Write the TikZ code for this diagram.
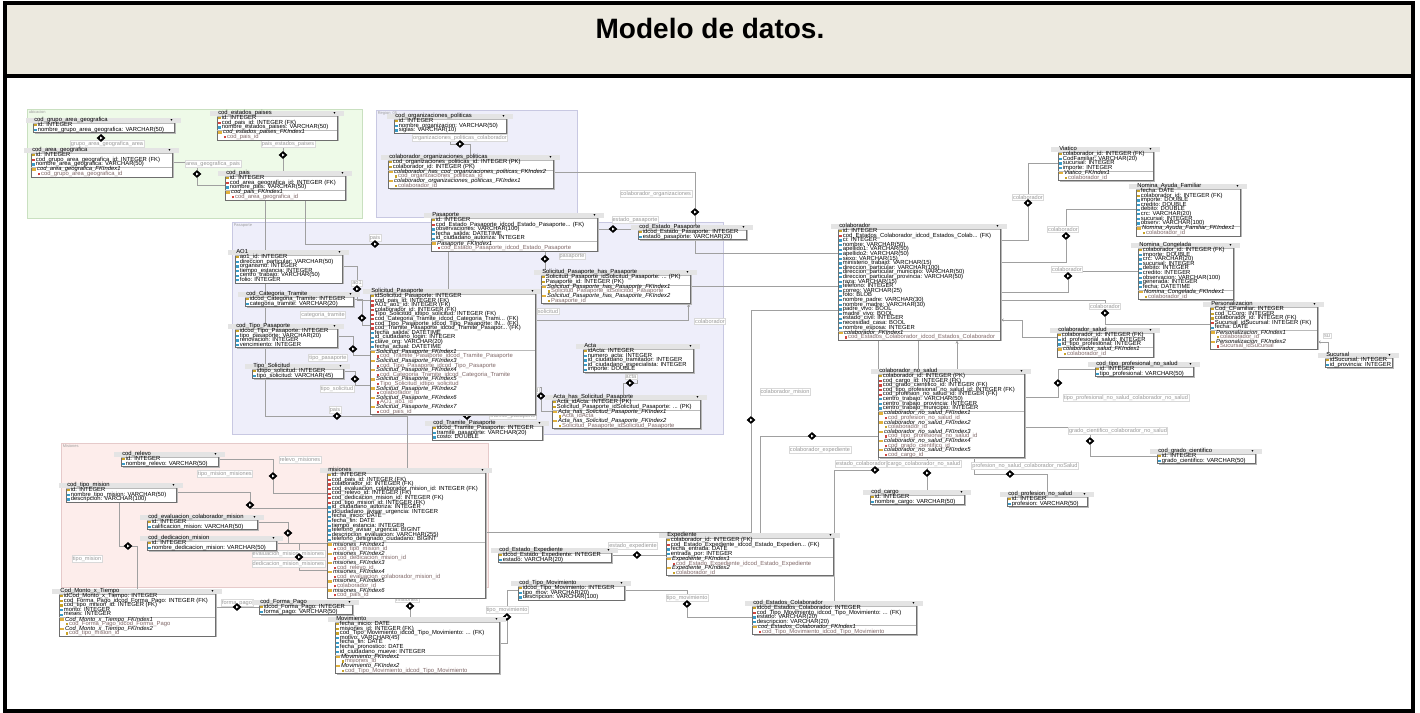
\documentclass[tikz,border=0pt]{standalone}
\usepackage{fontspec}
\setmainfont{Liberation Sans}
\usepackage{colortbl}
\usetikzlibrary{shapes.geometric,calc,shadows,arrows.meta}

\definecolor{keyc}{HTML}{C9A227}
\definecolor{fldc}{HTML}{3A9CC8}
\definecolor{fkc}{HTML}{D2453F}
\definecolor{fldr}{HTML}{E2B13C}
\definecolor{idxt}{HTML}{806868}
\definecolor{hdrc}{HTML}{E4E4E4}
\definecolor{tbord}{HTML}{6E6E6E}
\definecolor{titlebg}{HTML}{ECE9DF}
\definecolor{ubifill}{HTML}{EEFAE8}
\definecolor{ubidraw}{HTML}{C9E0C0}
\definecolor{pasfill}{HTML}{EEEEFA}
\definecolor{pasdraw}{HTML}{C8C8E2}
\definecolor{misfill}{HTML}{FDEDEB}
\definecolor{misdraw}{HTML}{E6CACA}
\definecolor{conc}{HTML}{A0A0A0}

\pgfdeclarelayer{regions}
\pgfdeclarelayer{lines}
\pgfsetlayers{regions,lines,main}

% table rows
\newlength\tw
\newcommand\tabfs{\fontsize{4.4}{3.45}\selectfont}
\newcommand\ico[1]{\textcolor{#1}{\rule[0.15pt]{1.7pt}{1.7pt}}\hspace{1pt}}
\newcommand\rowbox[1]{\makebox[\tw][l]{\smash{#1}}\\}
\newcommand\hd[1]{\rowcolor{hdrc}\makebox[\tw][l]{\smash{#1}\hfill\smash{\fontsize{2.6}{2.6}\selectfont ▼}}\\\hline}
\newcommand\kf[1]{\rowbox{\ico{keyc}#1}}
\newcommand\ff[1]{\rowbox{\ico{fldc}#1}}
\newcommand\fk[1]{\rowbox{\ico{fkc}#1}}
\newcommand\ix[1]{\rowbox{\textcolor{fldr}{\rule[0.15pt]{2.6pt}{1.8pt}}\hspace{1pt}\textit{#1}}}
\newcommand\ic[1]{\rowbox{\hspace{4pt}\ico{fkc}\textcolor{idxt}{#1}}}
\newcommand\icK[1]{\rowbox{\hspace{4pt}\ico{keyc}\textcolor{idxt}{#1}}}
% table node: name, x, y, width (px), rows
\newcommand\tbl[5]{\node[tbl] (#1) at (#2,#3) {\setlength\tw{\dimexpr 0.75pt*#4-1.5pt\relax}\tabfs\arrayrulecolor{gray!55}\setlength\arrayrulewidth{0.35pt}\begin{tabular}{@{\hspace{0.75pt}}l@{\hspace{0.75pt}}}#5\end{tabular}};}

\tikzset{
  tbl/.style={draw=tbord, line width=0.45pt, fill=white, inner sep=0pt, anchor=north west,
    drop shadow={shadow xshift=0.9pt, shadow yshift=-0.9pt, fill=black!28, opacity=1}},
  con/.style={draw=conc, line width=0.6pt},
  lbl/.style={font=\fontsize{4.2}{4.2}\selectfont, text=gray!80, fill=white, draw=gray!30, line width=0.3pt, inner sep=0.6pt},
  rlbl/.style={font=\fontsize{3}{3}\selectfont, text=gray!75, anchor=north west, inner sep=0.4pt},
  dia/.style={diamond, draw=black, fill=black, inner sep=0pt, minimum width=6pt, minimum height=5.4pt,
    path picture={\fill[white] (path picture bounding box.center) ++(-0.6pt,1pt) -- ++(1.8pt,-1pt) -- ++(-1.8pt,-1pt) -- cycle;}},
  tip/.style={-{Stealth[length=2.4pt,width=2.2pt]}}
}

\begin{document}
\catcode`\_=12
\begin{tikzpicture}[x=0.75pt,y=-0.75pt]
\useasboundingbox (0,0) rectangle (1420,713);

% title bar and package areas
\begin{pgfonlayer}{regions}
\fill[titlebg] (5,3) rectangle (1413,76);
\draw[ubidraw, fill=ubifill, line width=0.5pt] (27,109) rectangle (362,218);
\draw[pasdraw, fill=pasfill, line width=0.5pt] (376,110) rectangle (577,217);
\draw[pasdraw, fill=pasfill, line width=0.5pt] (232,222) rectangle (723,434);
\draw[misdraw, fill=misfill, line width=0.5pt] (61,443) rectangle (488,587);
\end{pgfonlayer}

\node[font=\fontsize{21}{21}\selectfont\bfseries] (title) at (710,28) {Modelo de datos.};

\node[rlbl] (r1) at (28,110) {ubicacion};
\node[rlbl] (r2) at (377,110.5) {Region_05};
\node[rlbl] (r3) at (233,223) {Pasaporte};
\node[rlbl] (r4) at (62,444) {Misiones};

% relationship labels
\node[lbl] (l1) at (107,144) {grupo_area_geografica_area};
\node[lbl] (l2) at (213,164) {area_geografica_pais};
\node[lbl] (l3) at (288,144) {pais_estados_paises};
\node[lbl] (l4) at (460,138) {organizaciones_politicas_colaborador};
\node[lbl, anchor=east] (l5) at (692,194) {colaborador_organizaciones};
\node[lbl] (l6) at (375,238) {pais};
\node[lbl] (l7) at (635,220) {estado_pasaporte};
\node[lbl] (l8) at (572,256) {pasaporte};
\node[lbl] (l9) at (357,283) {ao1};
\node[lbl] (l10) at (323,315) {categoria_tramite};
\node[lbl] (l11) at (328,358) {tipo_pasaporte};
\node[lbl] (l12) at (337,389) {tipo_solicitud};
\node[lbl] (l13) at (335,410) {pais};
\node[lbl] (l14) at (513,416) {tramite_pasaporte};
\node[lbl] (l15) at (548,311) {solicitud};
\node[lbl] (l16) at (710,321) {colaborador};
\node[lbl] (l17) at (631,377) {acta};
\node[lbl] (l18) at (528,390) {solicitud};
\node[lbl] (l19) at (785,392) {colaborador_mision};
\node[lbl] (l20) at (820,450) {colaborador_expediente};
\node[lbl] (l23) at (924,464) {cargo_colaborador_no_salud};
\node[lbl, anchor=east] (l22) at (l23.west) {estado_colaborador};
\node[lbl] (l24) at (1025,466) {profesion_no_salud_colaborador_noSalud};
\node[lbl] (l25) at (1118,431) {grado_cientifico_colaborador_no_salud};
\node[lbl] (l26) at (1126,398) {tipo_profesional_no_salud_colaborador_no_salud};
\node[lbl] (l27) at (1028,197) {colaborador};
\node[lbl] (l28) at (1063,229) {colaborador};
\node[lbl] (l29) at (1067,269) {colaborador};
\node[lbl] (l30) at (1105,306) {colaborador};
\node[lbl] (l32) at (1327,336) {su};
\node[lbl] (l33) at (300,460) {relevo_misiones};
\node[lbl] (l34) at (225,474) {tipo_mision_misiones};
\node[lbl, anchor=east] (l35) at (325,554) {evaluacion_mision_misiones};
\node[lbl, anchor=east] (l36) at (325,564) {dedicacion_mision_misiones};
\node[lbl] (l37) at (87,559) {tipo_mision};
\node[lbl] (l38) at (237,603) {forma_pago};
\node[lbl] (l39) at (407,599) {misiones};
\node[lbl] (l40) at (507,610) {tipo_movimiento};
\node[lbl] (l41) at (687,598) {tipo_movimiento};
\node[lbl] (l42) at (633,546) {estado_expediente};

% relationship markers
\node[dia] (d1) at (101,138) {};
\node[dia] (d2) at (197,174) {};
\node[dia] (d3) at (283,155) {};
\node[dia] (d4) at (460,144) {};
\node[dia] (d5) at (695,212) {};
\node[dia] (d6) at (375,244) {};
\node[dia] (d7) at (613,229) {};
\node[dia] (d8) at (545,259) {};
\node[dia] (d9) at (357,289) {};
\node[dia] (d10) at (362,318) {};
\node[dia] (d11) at (353,349) {};
\node[dia] (d12) at (355,379) {};
\node[dia] (d13) at (337,416) {};
\node[dia] (d14) at (467,416) {};
\node[dia] (d17) at (630,383) {};
\node[dia] (d18) at (541,396) {};
\node[dia] (d19) at (751,420) {};
\node[dia] (d20) at (812,436) {};
\node[dia] (d22) at (875,470) {};
\node[dia] (d23) at (927,473) {};
\node[dia] (d24) at (1010,474) {};
\node[dia] (d25) at (1090,441) {};
\node[dia] (d26) at (1058,383) {};
\node[dia] (d27) at (1028,203) {};
\node[dia] (d28) at (1066,236) {};
\node[dia] (d29) at (1068,276) {};
\node[dia] (d30) at (1105,313) {};
\node[dia] (d33) at (273,476) {};
\node[dia] (d34) at (250,505) {};
\node[dia] (d35) at (288,533) {};
\node[dia] (d36) at (299,557) {};
\node[dia] (d37) at (128,546) {};
\node[dia] (d38) at (237,607) {};
\node[dia] (d39) at (410,606) {};
\node[dia] (d40) at (507,617) {};
\node[dia] (d41) at (687,604) {};
\node[dia] (d42) at (637,555) {};

% ---- tables: ubicacion
\tbl{cgag}{33}{118}{141}{\hd{cod_grupo_area_geografica}\kf{id: INTEGER}\ff{nombre_grupo_area_geografica: VARCHAR(50)}}
\tbl{cag}{31}{148}{141}{\hd{cod_area_geografica}\kf{id: INTEGER}\fk{cod_grupo_area_geografica_id: INTEGER (FK)}\ff{nombre_area_geografica: VARCHAR(50)}\hline\ix{cod_area_geografica_FKIndex1}\ic{cod_grupo_area_geografica_id}}
\tbl{cep}{217}{111}{120}{\hd{cod_estados_paises}\kf{id: INTEGER}\fk{cod_pais_id: INTEGER (FK)}\ff{nombre_estados_paises: VARCHAR(50)}\hline\ix{cod_estados_paises_FKIndex1}\ic{cod_pais_id}}
\tbl{cpais}{225}{171}{120}{\hd{cod_pais}\kf{id: INTEGER}\fk{cod_area_geografica_id: INTEGER (FK)}\ff{nombre_pais: VARCHAR(50)}\hline\ix{cod_pais_FKIndex1}\ic{cod_area_geografica_id}}

% ---- tables: Region_05
\tbl{corg}{394}{114}{112}{\hd{cod_organizaciones_politicas}\kf{id: INTEGER}\ff{nombre_organizacion: VARCHAR(50)}\ff{siglas: VARCHAR(10)}}
\tbl{cop}{388}{155}{165}{\hd{colaborador_organizaciones_politicas}\kf{cod_organizaciones_politicas_id: INTEGER (PK)}\kf{colaborador_id: INTEGER (PK)}\hline\ix{colaborador_has_cod_organizaciones_politicas_FKIndex2}\icK{cod_organizaciones_politicas_id}\ix{colaborador_organizaciones_politicas_FKIndex1}\icK{colaborador_id}}

% ---- tables: Pasaporte
\tbl{pas}{431}{213}{166}{\hd{Pasaporte}\kf{id: INTEGER}\fk{cod_Estado_Pasaporte_idcod_Estado_Pasaporte... (FK)}\ff{observaciones: VARCHAR(100)}\ff{fecha_salida: DATETIME}\ff{id_ciudadano_autoriza: INTEGER}\hline\ix{Pasaporte_FKIndex1}\ic{cod_Estado_Pasaporte_idcod_Estado_Pasaporte}}
\tbl{cestp}{638}{225}{108}{\hd{cod_Estado_Pasaporte}\kf{idcod_Estado_Pasaporte: INTEGER}\ff{estado_pasaporte: VARCHAR(20)}}
\tbl{ao1}{235}{250}{107}{\hd{AO1}\kf{ao1_id: INTEGER}\ff{direccion_particular: VARCHAR(50)}\ff{organismo: INTEGER}\ff{tiempo_estancia: INTEGER}\ff{centro_trabajo: VARCHAR(50)}\ff{folio: INTEGER}}
\tbl{ccat}{245}{292}{108}{\hd{cod_Categoria_Tramite}\kf{idcod_Categoria_Tramite: INTEGER}\ff{categoria_tramite: VARCHAR(20)}}
\tbl{ctp}{235}{324}{102}{\hd{cod_Tipo_Pasaporte}\kf{idcod_Tipo_Pasaporte: INTEGER}\ff{tipo_pasaporte: VARCHAR(20)}\ff{renovacion: INTEGER}\ff{vencimiento: INTEGER}}
\tbl{tsol}{252}{364}{91}{\hd{Tipo_Solicitud}\kf{idtipo_solicitud: INTEGER}\ff{tipo_solicitud: VARCHAR(45)}}
\tbl{sol}{370}{289}{165}{\hd{Solicitud_Pasaporte}\kf{idSolicitud_Pasaporte: INTEGER}\fk{cod_pais_id: INTEGER (FK)}\fk{AO1_ao1_id: INTEGER (FK)}\fk{colaborador_id: INTEGER (FK)}\fk{Tipo_Solicitud_idtipo_solicitud: INTEGER (FK)}\fk{cod_Categoria_Tramite_idcod_Categoria_Trami... (FK)}\fk{cod_Tipo_Pasaporte_idcod_Tipo_Pasaporte: IN... (FK)}\fk{cod_Tramite_Pasaporte_idcod_Tramite_Pasapor... (FK)}\ff{fecha_salida: DATETIME}\ff{id_ciudadano_login: INTEGER}\ff{clave_org: VARCHAR(20)}\ff{fecha_actual: DATETIME}\hline\ix{Solicitud_Pasaporte_FKIndex1}\ic{cod_Tramite_Pasaporte_idcod_Tramite_Pasaporte}\ix{Solicitud_Pasaporte_FKIndex3}\ic{cod_Tipo_Pasaporte_idcod_Tipo_Pasaporte}\ix{Solicitud_Pasaporte_FKIndex4}\ic{cod_Categoria_Tramite_idcod_Categoria_Tramite}\ix{Solicitud_Pasaporte_FKIndex5}\ic{Tipo_Solicitud_idtipo_solicitud}\ix{Solicitud_Pasaporte_FKIndex2}\ic{colaborador_id}\ix{Solicitud_Pasaporte_FKIndex6}\ic{AO1_ao1_id}\ix{Solicitud_Pasaporte_FKIndex7}\ic{cod_pais_id}}
\tbl{ctram}{432}{421}{110}{\hd{cod_Tramite_Pasaporte}\kf{idcod_Tramite_Pasaporte: INTEGER}\ff{tramite_pasaporte: VARCHAR(20)}\ff{costo: DOUBLE}}
\tbl{shp}{541}{270}{149}{\hd{Solicitud_Pasaporte_has_Pasaporte}\kf{Solicitud_Pasaporte_idSolicitud_Pasaporte: ... (PK)}\kf{Pasaporte_id: INTEGER (PK)}\hline\ix{Solicitud_Pasaporte_has_Pasaporte_FKIndex1}\icK{Solicitud_Pasaporte_idSolicitud_Pasaporte}\ix{Solicitud_Pasaporte_has_Pasaporte_FKIndex2}\icK{Pasaporte_id}}
\tbl{acta}{583}{344}{110}{\hd{Acta}\kf{idActa: INTEGER}\ff{numero_acta: INTEGER}\ff{id_ciudadano_tramitador: INTEGER}\ff{id_ciudadano_especialista: INTEGER}\ff{importe: DOUBLE}}
\tbl{ahs}{552}{395}{148}{\hd{Acta_has_Solicitud_Pasaporte}\kf{Acta_idActa: INTEGER (PK)}\kf{Solicitud_Pasaporte_idSolicitud_Pasaporte: ... (PK)}\hline\ix{Acta_has_Solicitud_Pasaporte_FKIndex1}\icK{Acta_idActa}\ix{Acta_has_Solicitud_Pasaporte_FKIndex2}\icK{Solicitud_Pasaporte_idSolicitud_Pasaporte}}

% ---- tables: colaborador
\tbl{col}{838}{224}{162}{\hd{colaborador}\kf{id: INTEGER}\fk{cod_Estados_Colaborador_idcod_Estados_Colab... (FK)}\ff{ci: INTEGER}\ff{nombre: VARCHAR(50)}\ff{apellido1: VARCHAR(50)}\ff{apellido2: VARCHAR(50)}\ff{sexo: VARCHAR(15)}\ff{ministerio_trabajo: VARCHAR(15)}\ff{direccion_particular: VARCHAR(100)}\ff{direccion_particular_municipio: VARCHAR(50)}\ff{direccion_particular_provincia: VARCHAR(50)}\ff{raza: VARCHAR(15)}\ff{telefono: INTEGER}\ff{correo: VARCHAR(25)}\ff{foto: BLOB}\ff{nombre_padre: VARCHAR(30)}\ff{nombre_madre: VARCHAR(30)}\ff{padre_vivo: BOOL}\ff{madre_vivo: BOOL}\ff{estado_civil: INTEGER}\ff{necesidad_casa: BOOL}\ff{nombre_esposa: INTEGER}\hline\ix{colaborador_FKIndex1}\ic{cod_Estados_Colaborador_idcod_Estados_Colaborador}}
\tbl{viat}{1058}{147}{95}{\hd{Viatico}\kf{colaborador_id: INTEGER (FK)}\ff{CodFamiliar: VARCHAR(20)}\ff{sucursal: INTEGER}\ff{importe: INTEGER}\hline\ix{Viatico_FKIndex1}\icK{colaborador_id}}
\tbl{naf}{1136}{184}{104}{\hd{Nomina_Ayuda_Familiar}\kf{fecha: DATE}\kf{colaborador_id: INTEGER (FK)}\ff{importe: DOUBLE}\ff{credito: DOUBLE}\ff{debito: DOUBLE}\ff{crc: VARCHAR(20)}\ff{sucursal: INTEGER}\ff{observ: VARCHAR(100)}\hline\ix{Nomina_Ayuda_Familiar_FKIndex1}\icK{colaborador_id}}
\tbl{ncong}{1138}{243}{95}{\hd{Nomina_Congelada}\kf{colaborador_id: INTEGER (FK)}\ff{importe: DOUBLE}\ff{crc: VARCHAR(20)}\ff{sucursal: INTEGER}\ff{debito: INTEGER}\ff{credito: INTEGER}\ff{observacion: VARCHAR(100)}\ff{generada: INTEGER}\ff{fecha: DATETIME}\hline\ix{Nomina_Congelada_FKIndex1}\icK{colaborador_id}}
\tbl{pers}{1210}{302}{107}{\hd{Personalizacion}\kf{Cod_CFamiliar: INTEGER}\kf{cod_CCorg: INTEGER}\kf{colaborador_id: INTEGER (FK)}\fk{Sucursal_idSucursal: INTEGER (FK)}\ff{fecha: DATE}\hline\ix{Personalizacion_FKIndex1}\icK{colaborador_id}\ix{Personalizacion_FKIndex2}\ic{Sucursal_idSucursal}}
\tbl{suc}{1325}{353}{67}{\hd{Sucursal}\kf{idSucursal: INTEGER}\ff{id_provincia: INTEGER}}
\tbl{csal}{1057}{328}{96}{\hd{colaborador_salud}\kf{colaborador_id: INTEGER (FK)}\ff{id_profesional_salud: INTEGER}\ff{id_tipo_profesional: INTEGER}\hline\ix{colaborador_salud_FKIndex1}\icK{colaborador_id}}
\tbl{ctpns}{1095}{362}{98}{\hd{cod_tipo_profesional_no_salud}\kf{id: INTEGER}\ff{tipo_profesional: VARCHAR(50)}}
\tbl{cns}{878}{369}{146}{\hd{colaborador_no_salud}\kf{colaborador_id: INTEGER (PK)}\fk{cod_cargo_id: INTEGER (FK)}\fk{cod_grado_cientifico_id: INTEGER (FK)}\fk{cod_tipo_profesional_no_salud_id: INTEGER (FK)}\fk{cod_profesion_no_salud_id: INTEGER (FK)}\ff{centro_trabajo: VARCHAR(50)}\ff{centro_trabajo_provincia: INTEGER}\ff{centro_trabajo_municipio: INTEGER}\hline\ix{colaborador_no_salud_FKIndex1}\ic{cod_profesion_no_salud_id}\ix{colaborador_no_salud_FKIndex2}\icK{colaborador_id}\ix{colaborador_no_salud_FKIndex3}\ic{cod_tipo_profesional_no_salud_id}\ix{colaborador_no_salud_FKIndex4}\ic{cod_grado_cientifico_id}\ix{colaborador_no_salud_FKIndex5}\ic{cod_cargo_id}}
\tbl{ccargo}{870}{490}{94}{\hd{cod_cargo}\kf{id: INTEGER}\ff{nombre_cargo: VARCHAR(50)}}
\tbl{cprof}{1007}{492}{80}{\hd{cod_profesion_no_salud}\kf{id: INTEGER}\ff{profesion: VARCHAR(50)}}
\tbl{cgc}{1157}{449}{98}{\hd{cod_grado_cientifico}\kf{id: INTEGER}\ff{grado_cientifico: VARCHAR(50)}}
\tbl{exped}{666}{533}{167}{\hd{Expediente}\kf{colaborador_id: INTEGER (FK)}\fk{cod_Estado_Expediente_idcod_Estado_Expedien... (FK)}\ff{fecha_entrada: DATE}\ff{entrada_por: INTEGER}\hline\ix{Expediente_FKIndex1}\ic{cod_Estado_Expediente_idcod_Estado_Expediente}\ix{Expediente_FKIndex2}\icK{colaborador_id}}
\tbl{cee}{498}{548}{113}{\hd{cod_Estado_Expediente}\kf{idcod_Estado_Expediente: INTEGER}\ff{estado: VARCHAR(20)}}
\tbl{ctm}{518}{581}{106}{\hd{cod_Tipo_Movimiento}\kf{idcod_Tipo_Movimiento: INTEGER}\ff{tipo_mov: VARCHAR(20)}\ff{descripcion: VARCHAR(100)}}
\tbl{cec}{752}{601}{164}{\hd{cod_Estados_Colaborador}\kf{idcod_Estados_Colaborador: INTEGER}\fk{cod_Tipo_Movimiento_idcod_Tipo_Movimiento: ... (FK)}\ff{estado: VARCHAR(20)}\ff{descripcion: VARCHAR(20)}\hline\ix{cod_Estados_Colaborador_FKIndex1}\ic{cod_Tipo_Movimiento_idcod_Tipo_Movimiento}}

% ---- tables: Misiones
\tbl{crel}{121}{452}{97}{\hd{cod_relevo}\kf{id: INTEGER}\ff{nombre_relevo: VARCHAR(50)}}
\tbl{ctmis}{66}{483}{110}{\hd{cod_tipo_mision}\kf{id: INTEGER}\ff{nombre_tipo_mision: VARCHAR(50)}\ff{descripcion: VARCHAR(100)}}
\tbl{ceval}{147}{515}{110}{\hd{cod_evaluacion_colaborador_mision}\kf{id: INTEGER}\ff{calificacion_mision: VARCHAR(50)}}
\tbl{cded}{147}{536}{129}{\hd{cod_dedicacion_mision}\kf{id: INTEGER}\ff{nombre_dedicacion_mision: VARCHAR(50)}}
\tbl{mis}{327}{468}{158}{\hd{misiones}\kf{id: INTEGER}\fk{cod_pais_id: INTEGER (FK)}\fk{colaborador_id: INTEGER (FK)}\fk{cod_evaluacion_colaborador_mision_id: INTEGER (FK)}\fk{cod_relevo_id: INTEGER (FK)}\fk{cod_dedicacion_mision_id: INTEGER (FK)}\fk{cod_tipo_mision_id: INTEGER (FK)}\ff{id_ciudadano_autoriza: INTEGER}\ff{idciudadano_avisar_urgencia: INTEGER}\ff{fecha_inicio: DATE}\ff{fecha_fin: DATE}\ff{tiempo_estancia: INTEGER}\ff{telefono_avisar_urgencia: BIGINT}\ff{descripcion_evaluacion: VARCHAR(255)}\ff{telefono_designado_ciudadano: BIGINT}\hline\ix{misiones_FKIndex1}\ic{cod_tipo_mision_id}\ix{misiones_FKIndex2}\ic{cod_dedicacion_mision_id}\ix{misiones_FKIndex3}\ic{cod_relevo_id}\ix{misiones_FKIndex4}\ic{cod_evaluacion_colaborador_mision_id}\ix{misiones_FKIndex5}\ic{colaborador_id}\ix{misiones_FKIndex6}\ic{cod_pais_id}}
\tbl{cmt}{59}{589}{156}{\hd{Cod_Monto_x_Tiempo}\kf{idCod_Monto_x_Tiempo: INTEGER}\kf{cod_Forma_Pago_idcod_Forma_Pago: INTEGER (FK)}\kf{cod_tipo_mision_id: INTEGER (FK)}\ff{monto: INTEGER}\ff{meses: INTEGER}\hline\ix{Cod_Monto_x_Tiempo_FKIndex1}\icK{cod_Forma_Pago_idcod_Forma_Pago}\ix{Cod_Monto_x_Tiempo_FKIndex2}\icK{cod_tipo_mision_id}}
\tbl{cfp}{259}{600}{93}{\hd{cod_Forma_Pago}\kf{idcod_Forma_Pago: INTEGER}\ff{forma_pago: VARCHAR(50)}}
\tbl{mov}{335}{617}{164}{\hd{Movimiento}\kf{fecha_inicio: DATE}\kf{misiones_id: INTEGER (FK)}\kf{cod_Tipo_Movimiento_idcod_Tipo_Movimiento: ... (FK)}\ff{motivo: VARCHAR(45)}\ff{fecha_fin: DATE}\ff{fecha_pronostico: DATE}\ff{id_ciudadano_mueve: INTEGER}\hline\ix{Movimiento_FKIndex1}\icK{misiones_id}\ix{Movimiento_FKIndex2}\icK{cod_Tipo_Movimiento_idcod_Tipo_Movimiento}}

% ---- relationships
\begin{pgfonlayer}{lines}
\draw[con] (cgag.south -| d1) -- (cag.north -| d1);
\draw[con] (cag.east) -| (d2) |- (cpais.west);
\draw[con] (cep.south -| d3) -- (cpais.north -| d3);
\draw[con] (corg.south) |- (d4) -| (cop.north);
\draw[con] ($(cop.north east)+(0,17)$) -| (d5) |- ($(col.north west)+(0,29)$);
\draw[con] ($(cpais.south west)+(80,0)$) |- (d6) -| ($(sol.north west)+(78,0)$);
\draw[con] (pas.east |- d7) -- (cestp.west |- d7);
\draw[con] (pas.south -| d8) -- (shp.north -| d8);
\draw[con] ($(ao1.north east)+(0,16)$) -| (d9) |- ($(sol.north west)+(0,11)$);
\draw[con] (ccat.east) -| (d10) |- ($(sol.north west)+(0,36)$);
\draw[con] (ctp.east) -| (d11) |- ($(sol.north west)+(0,66)$);
\draw[con] (tsol.east) -| (d12) |- ($(sol.north west)+(0,96)$);
\draw[con] ($(cpais.south west)+(40,0)$) |- (d13) -| ($(mis.north west)+(80,0)$);
\draw[con] (sol.south -| d14) -- (ctram.north -| d14);
\draw[con, tip] ($(sol.north east)+(0,31)$) -| ($(shp.south east)+(-2,0)$);
\draw[con] (shp.east) -- (shp.east -| col.west);
\draw[con] ($(acta.south west)+(54,0)$) |- (d17) -| ($(ahs.north west)+(71,0)$);
\draw[con] ($(sol.north east)+(0,98)$) -| (d18) |- (ahs.west);
\draw[con] ($(col.north west)+(0,86)$) -| (d19) |- ($(mis.north east)+(0,64)$);
\draw[con] ($(col.south west)+(40,0)$) |- (d20) -| ($(exped.north west)+(94,0)$);
\draw[con] ($(col.south west)+(80,0)$) -- ($(cns.north west)+(40,0)$);
\draw[con, tip] ($(cns.north west)+(79,0)$) -- ($(col.south west)+(119,0)$);
\draw[con] (cec.north) |- (d22) -| ($(col.south west)+(40,0)$);
\draw[con] ($(cns.south west)+(49,0)$) -- ($(ccargo.north west)+(57,0)$);
\draw[con] ($(cns.south west)+(96,0)$) |- (d24) -| ($(cprof.north west)+(40,0)$);
\draw[con] ($(cns.north east)+(0,58)$) -| (d25) |- (cgc.west);
\draw[con] (ctpns.west) -| (d26) |- ($(cns.north east)+(0,28)$);
\draw[con] ($(col.north east)+(0,16)$) -| (d27) |- (viat.west);
\draw[con] ($(col.north east)+(0,38)$) -| (d28) |- ($(naf.north west)+(0,25)$);
\draw[con] ($(col.north east)+(0,68)$) -| (d29) |- (ncong.west);
\draw[con] ($(col.north east)+(0,76)$) -| (d30) |- ($(pers.north west)+(0,22)$);
\draw[con, tip] ($(csal.north west)+(0,9)$) -| ($(col.north east)+(22,96)$) -- ($(col.north east)+(0,96)$);
\draw[con, tip] ($(suc.north west)+(3,0)$) |- ($(pers.north east)+(0,40)$);
\draw[con] (crel.east) -| (d33) |- ($(mis.north west)+(0,25)$);
\draw[con] (ctmis.east) -| (d34) |- ($(mis.north west)+(0,40)$);
\draw[con] (ceval.east) -| (d35) |- ($(mis.north west)+(0,75)$);
\draw[con] (cded.east) -| (d36) |- ($(mis.north west)+(0,102)$);
\draw[con] ($(ctmis.south west)+(53,0)$) |- (d37) -| ($(cmt.north west)+(78,0)$);
\draw[con] (cfp.west) -- (cfp.west -| cmt.east);
\draw[con] (mis.south -| d39) -- (mov.north -| d39);
\draw[con] (ctm.west) -| (d40) |- ($(mov.north east)+(0,26)$);
\draw[con] (ctm.east) -| (d41) |- ($(cec.north west)+(0,16)$);
\draw[con] (cee.east) -- (cee.east -| exped.west);
\end{pgfonlayer}

% frame
\draw[line width=3pt] (5,3) rectangle (1413,711);
\draw[line width=3pt] (5,76) -- (1413,76);
\end{tikzpicture}
\end{document}
